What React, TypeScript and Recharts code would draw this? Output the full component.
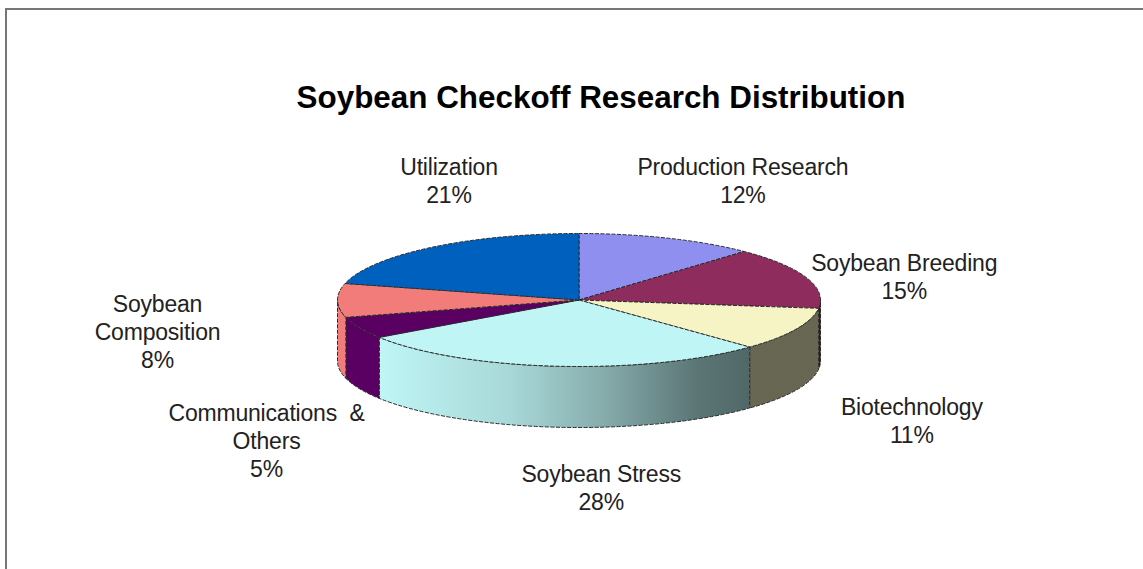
import React from "react";
import { PieChart, Pie, Cell } from "recharts";

const categories = [
  "Production Research",
  "Soybean Breeding",
  "Biotechnology",
  "Soybean Stress",
  "Communications & Others",
  "Soybean Composition",
  "Utilization",
];
// percentages as read from the slice edges, they round to the printed labels
const shares = [12, 15, 10.51, 27.99, 5.3, 8.2, 21];
const labelLines = [
  ["Production Research"],
  ["Soybean Breeding"],
  ["Biotechnology"],
  ["Soybean Stress"],
  ["Communications \u00a0&", "Others"],
  ["Soybean", "Composition"],
  ["Utilization"],
];
const colors = ["#8f8ff0", "#8e2c5e", "#f6f4c4", "#bff5f5", "#5a0062", "#f27c7a", "#0060bd"];

const data = categories.map((name, i) => ({ name, value: shares[i] }));

const WIDTH = 1143;
const HEIGHT = 569;
const CX = 579;
const CY = 300;
const RX = 241.5;
const RY = 66.5;
const DEPTH = 61;

// where each label sits relative to the rim of its slice
const labelNudge = [
  [75, -57],
  [98, 0],
  [116, 92],
  [45, 122],
  [-93, 113],
  [-180, 32],
  [18, -66],
];

const RAD = Math.PI / 180;
const px = (a: number) => CX + RX * Math.cos(a * RAD);
const py = (a: number) => CY - RY * Math.sin(a * RAD);

// flattened slice plus its outer wall; the slice angles come from the Pie
const Slice3D = (props: any) => {
  const { startAngle, endAngle, fill } = props;
  const large = startAngle - endAngle > 180 ? 1 : 0;
  const top = `M${CX},${CY} L${px(startAngle)},${py(startAngle)} A${RX},${RY} 0 ${large} 1 ${px(endAngle)},${py(endAngle)} Z`;
  const a1 = Math.min(startAngle, 0);
  const a2 = Math.max(endAngle, -180);
  let wall = null;
  if (a1 > a2) {
    const d = `M${px(a1)},${py(a1)} A${RX},${RY} 0 0 1 ${px(a2)},${py(a2)} L${px(a2)},${py(a2) + DEPTH} A${RX},${RY} 0 0 0 ${px(a1)},${py(a1) + DEPTH} Z`;
    wall = (
      <g>
        <path d={d} fill={fill} stroke="none" />
        <path d={d} fill="url(#wallShade)" stroke="#2b2b2b" strokeWidth={1} strokeDasharray="4 1.5" />
      </g>
    );
  }
  return (
    <g>
      {wall}
      <path d={top} fill={fill} stroke="#2b2b2b" strokeWidth={1} strokeDasharray="4 1.5" />
    </g>
  );
};

const renderLabel = (props: any) => {
  const { midAngle, percent, index } = props;
  const x = px(midAngle) + labelNudge[index][0];
  const y = py(midAngle) + labelNudge[index][1];
  const lines = [...labelLines[index], `${Math.round(percent * 100)}%`];
  const lineH = 28;
  const y0 = y - ((lines.length - 1) * lineH) / 2;
  return (
    <text
      key={index}
      x={x}
      textAnchor="middle"
      dominantBaseline="central"
      fontFamily="Liberation Sans"
      fontSize={23}
      letterSpacing={-0.2}
      fill="#222"
    >
      {lines.map((t, i) => (
        <tspan key={i} x={x} y={y0 + i * lineH}>
          {t}
        </tspan>
      ))}
    </text>
  );
};

export default function App() {
  return (
    <div style={{ position: "absolute", left: 0, top: 0, width: WIDTH, height: HEIGHT, background: "#fff", overflow: "hidden" }}>
      <div style={{ position: "absolute", left: 5, top: 8, width: WIDTH, height: HEIGHT, borderLeft: "2px solid #777", borderTop: "2px solid #777" }} />
      <div style={{ position: "absolute", left: 0, top: 0 }}>
        <PieChart width={WIDTH} height={HEIGHT} margin={{ top: 0, right: 0, bottom: 0, left: 0 }}>
          <defs>
            <linearGradient id="wallShade" gradientUnits="userSpaceOnUse" x1={381} y1={0} x2={752} y2={0}>
              <stop offset="0" stopColor="#000" stopOpacity={0} />
              <stop offset="0.35" stopColor="#000" stopOpacity={0.12} />
              <stop offset="0.6" stopColor="#000" stopOpacity={0.3} />
              <stop offset="0.85" stopColor="#000" stopOpacity={0.52} />
              <stop offset="1" stopColor="#000" stopOpacity={0.58} />
            </linearGradient>
          </defs>
          <text
            x={601}
            y={97}
            textAnchor="middle"
            dominantBaseline="central"
            fontFamily="Liberation Sans"
            fontWeight="bold"
            fontSize={31.4}
            fill="#000"
          >
            Soybean Checkoff Research Distribution
          </text>
          <Pie
            data={data}
            dataKey="value"
            nameKey="name"
            cx={CX}
            cy={CY}
            outerRadius={RX}
            startAngle={90}
            endAngle={-270}
            isAnimationActive={false}
            shape={Slice3D}
            label={renderLabel}
            labelLine={false}
          >
            {data.map((d, i) => (
              <Cell key={d.name} fill={colors[i]} />
            ))}
          </Pie>
        </PieChart>
      </div>
    </div>
  );
}
